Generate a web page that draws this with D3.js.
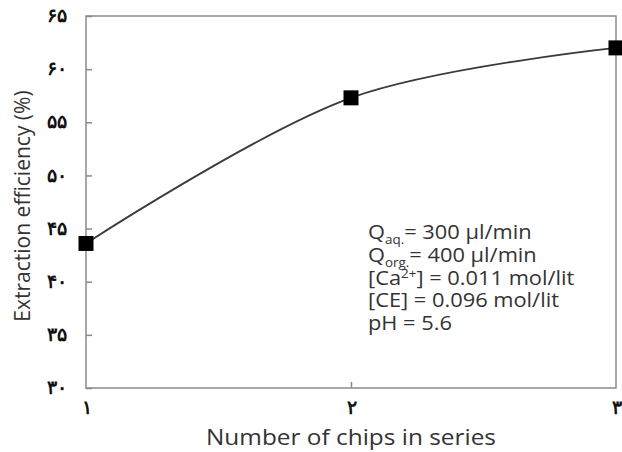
<!DOCTYPE html>
<html>
<head>
<meta charset="utf-8">
<script src="https://cdn.jsdelivr.net/npm/d3@7"></script>
<style>
  body { margin: 0; background: #fff; }
  svg text { font-family: "Open Sans", sans-serif; }
</style>
</head>
<body>
<div id="chart"></div>
<script>
// data
const chips = [1, 2, 3];
const efficiency = [43.6, 57.3, 62.0];
const yTicks = [30, 35, 40, 45, 50, 55, 60, 65];
const xTicks = [1, 2, 3];
// each note line: [text, small text, kind of small text, rest]
const notes = [
  ["Q", "aq.", "sub", "= 300 µl/min"],
  ["Q", "org.", "sub", "= 400 µl/min"],
  ["[Ca", "2+", "sup", "] = 0.011 mol/lit"],
  ["[CE] = 0.096 mol/lit"],
  ["pH = 5.6"]
];

const persian = "۰۱۲۳۴۵۶۷۸۹";
function toPersian(n) {
  return String(n).replace(/[0-9]/g, d => persian[+d]);
}

const svg = d3.select("#chart").append("svg")
  .attr("width", 622)
  .attr("height", 452);

const margin = { top: 16, right: 6, bottom: 64, left: 86 };
const width = 622 - margin.left - margin.right;
const height = 452 - margin.top - margin.bottom;

const x = d3.scaleLinear().domain([1, 3]).range([0, width]);
const y = d3.scaleLinear().domain([30, 65]).range([height, 0]);

const g = svg.append("g")
  .attr("transform", `translate(${margin.left},${margin.top})`);

// frame
g.append("rect")
  .attr("width", width)
  .attr("height", height)
  .attr("fill", "none")
  .attr("stroke", "#8a8a8a")
  .attr("stroke-width", 1.5);

// y axis, ticks inward
const yAxis = g.append("g")
  .call(d3.axisLeft(y).tickValues(yTicks).tickSizeInner(-6).tickSizeOuter(0)
    .tickPadding(19).tickFormat(toPersian));
yAxis.select(".domain").remove();
yAxis.selectAll("line").attr("stroke", "#8a8a8a").attr("stroke-width", 1.5);
yAxis.selectAll("text")
  .attr("font-family", "DejaVu Sans, sans-serif")
  .attr("font-size", 19)
  .attr("font-weight", "bold")
  .attr("dy", "0.3em")
  .attr("fill", "#111");

// x axis
const xAxis = g.append("g")
  .attr("transform", `translate(0,${height})`)
  .call(d3.axisBottom(x).tickValues(xTicks).tickSizeInner(-6).tickSizeOuter(0)
    .tickPadding(13).tickFormat(toPersian));
xAxis.select(".domain").remove();
xAxis.selectAll("line").attr("stroke", "#8a8a8a").attr("stroke-width", 1.5)
  .attr("opacity", (d, i) => (i === 1 ? 1 : 0));
xAxis.selectAll("text")
  .attr("font-family", "DejaVu Sans, sans-serif")
  .attr("font-size", 19)
  .attr("font-weight", "bold")
  .attr("fill", "#111");

// smoothed line
const line = d3.line()
  .x((d, i) => x(chips[i]))
  .y(d => y(d))
  .curve(d3.curveCatmullRom.alpha(0.5));

g.append("path")
  .datum(efficiency)
  .attr("d", line)
  .attr("fill", "none")
  .attr("stroke", "#3a3a3a")
  .attr("stroke-width", 1.8);

// markers
g.selectAll("rect.pt")
  .data(efficiency)
  .enter()
  .append("rect")
  .attr("class", "pt")
  .attr("x", (d, i) => x(chips[i]) - 7.5)
  .attr("y", d => y(d) - 7.5)
  .attr("width", 15)
  .attr("height", 15)
  .attr("fill", "#000");

// annotation (slightly stretched sideways like the source image)
const note = g.append("g")
  .attr("transform", "translate(282,0) scale(1.12,1)")
  .append("text")
  .attr("font-size", 19.5)
  .attr("fill", "#333");
notes.forEach((parts, i) => {
  note.append("tspan")
    .attr("x", 0)
    .attr("y", 223 + i * 22.8)
    .text(parts[0]);
  if (parts.length > 1) {
    const up = parts[2] === "sup";
    note.append("tspan")
      .attr("font-size", 12)
      .attr("dy", up ? -7 : 5)
      .text(parts[1]);
    note.append("tspan")
      .attr("dy", up ? 7 : -5)
      .text(parts[3]);
  }
});

// axis titles
svg.append("text")
  .attr("transform", `translate(${margin.left + width / 2},445)`)
  .attr("text-anchor", "middle")
  .attr("font-size", 22)
  .attr("textLength", 290)
  .attr("lengthAdjust", "spacingAndGlyphs")
  .attr("fill", "#333")
  .text("Number of chips in series");

svg.append("text")
  .attr("transform", `translate(30,${margin.top + height / 2 + 4}) rotate(-90)`)
  .attr("text-anchor", "middle")
  .attr("font-size", 21)
  .attr("fill", "#333")
  .text("Extraction efficiency (%)");
</script>
</body>
</html>
